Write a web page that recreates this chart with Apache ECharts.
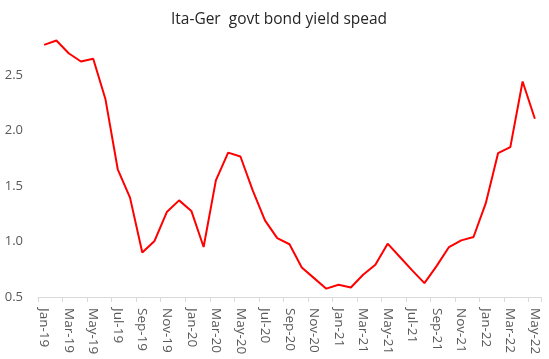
<!DOCTYPE html>
<html>
<head>
<meta charset="utf-8">
<script src="https://cdn.jsdelivr.net/npm/echarts@6/dist/echarts.min.js"></script>
<style>html,body{margin:0;padding:0;background:#fff;}#c{width:549px;height:359px;}</style>
</head>
<body>
<div id="c"></div>
<script>
const titleText = 'Ita-Ger  govt bond yield spead';
const months = ['Jan-19','Feb-19','Mar-19','Apr-19','May-19','Jun-19','Jul-19','Aug-19','Sep-19','Oct-19','Nov-19','Dec-19',
  'Jan-20','Feb-20','Mar-20','Apr-20','May-20','Jun-20','Jul-20','Aug-20','Sep-20','Oct-20','Nov-20','Dec-20',
  'Jan-21','Feb-21','Mar-21','Apr-21','May-21','Jun-21','Jul-21','Aug-21','Sep-21','Oct-21','Nov-21','Dec-21',
  'Jan-22','Feb-22','Mar-22','Apr-22','May-22'];
const spread = [2.77,2.81,2.695,2.62,2.645,2.28,1.65,1.395,0.90,1.005,1.265,1.37,
  1.275,0.95,1.55,1.80,1.765,1.46,1.19,1.03,0.975,0.765,0.67,0.575,
  0.61,0.585,0.70,0.79,0.98,0.86,0.74,0.625,0.78,0.95,1.01,1.04,
  1.345,1.795,1.85,2.44,2.105];
const yTicks = [0.5, 1.0, 1.5, 2.0, 2.5];

const chart = echarts.init(document.getElementById('c'));
chart.setOption({
  animation: false,
  backgroundColor: '#ffffff',
  title: {
    text: titleText,
    left: 274, top: 7, textAlign: 'center',
    textStyle: {fontFamily: 'Open Sans', fontSize: 15.5, fontWeight: 'normal', color: '#262626'}
  },
  grid: {left: 38, right: 8, top: 36, bottom: 62, containLabel: false},
  xAxis: {
    type: 'category',
    data: months,
    boundaryGap: true,
    axisLine: {lineStyle: {color: '#d9d9d9', width: 1}},
    axisTick: {show: true, interval: 1, length: 5, lineStyle: {color: '#d9d9d9'}},
    axisLabel: {interval: 1, rotate: -90, color: '#595959', fontFamily: 'Open Sans', fontSize: 13.5, margin: 11}
  },
  yAxis: {
    type: 'value',
    min: 0.5, max: 2.85, interval: 0.5,
    axisLine: {show: false},
    axisTick: {show: false},
    splitLine: {show: false},
    axisLabel: {
      color: '#595959', fontFamily: 'Open Sans', fontSize: 13, margin: 15,
      showMaxLabel: false,
      formatter: v => yTicks.some(t => Math.abs(t - v) < 1e-9) ? v.toFixed(1) : ''
    }
  },
  series: [{
    type: 'line',
    data: spread,
    showSymbol: false,
    lineStyle: {color: '#ff0000', width: 2},
    itemStyle: {color: '#ff0000'}
  }]
});
</script>
</body>
</html>
